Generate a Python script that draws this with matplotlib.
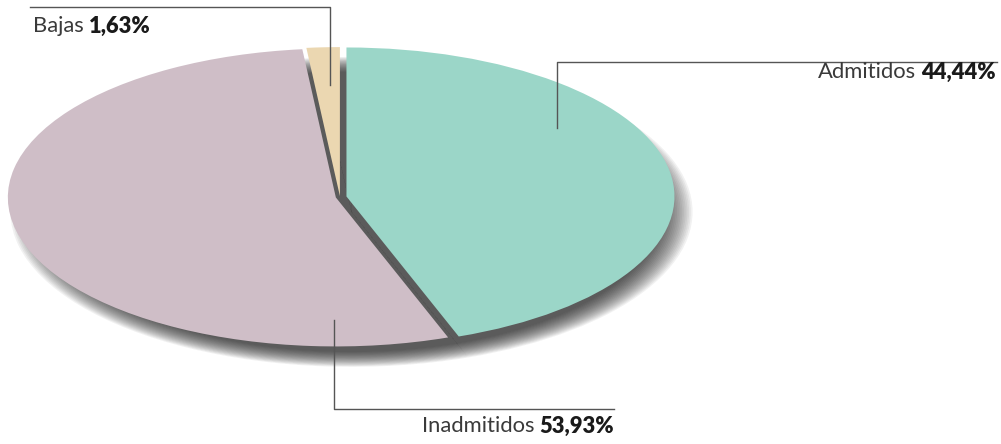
import matplotlib
matplotlib.use("Agg")
import matplotlib.pyplot as plt

W, H = 1001, 444

labels = ["Admitidos", "Inadmitidos", "Bajas"]
values = [44.44, 53.93, 1.63]
colors = ["#9bd6c8", "#cfbec7", "#ebd7b1"]
explode = [0.02, 0.013, 0.006]


def fmt_pct(v):
    return f"{v:.2f}".replace(".", ",") + "%"


def px(x, y):
    # pixel (from top-left) -> figure fraction
    return x / W, 1 - y / H


def label_pair(fig, x, y, name, value, align="left"):
    r = fig.canvas.get_renderer()
    size = 15.8
    name_kw = dict(fontsize=size, family="Lato", weight="normal", color="#3a3a3a", va="center")
    num_kw = dict(fontsize=size, family="Lato", weight="heavy", color="#1a1a1a", va="center")
    gap = 5 / W
    fx, fy = px(x, y)
    if align == "left":
        t = fig.text(fx, fy, name, ha="left", **name_kw)
        w = t.get_window_extent(r).width / W
        fig.text(fx + w + gap, fy, fmt_pct(value), ha="left", **num_kw)
    else:
        t = fig.text(fx, fy, fmt_pct(value), ha="right", **num_kw)
        w = t.get_window_extent(r).width / W
        fig.text(fx - w - gap, fy, name, ha="right", **name_kw)


def leader(fig, pts):
    xs = [px(x, y)[0] for x, y in pts]
    ys = [px(x, y)[1] for x, y in pts]
    fig.add_artist(plt.Line2D(xs, ys, color="#555555", linewidth=1.0))


fig = plt.figure(figsize=(W / 100, H / 100), dpi=100)
ax = fig.add_axes([0, 0, 1, 1])

# blurred drop shadow, stacked copies of the (unexploded) pie
n = 20
for i in range(n):
    rad = 0.99 + (i / (n - 1) - 0.5) * 0.1
    ax.pie(values, startangle=90, counterclock=False,
           radius=rad, center=(0.035, -0.1), colors=["#1e1e1e"] * 3,
           wedgeprops=dict(alpha=0.06, linewidth=0))

ax.pie(values, explode=explode, startangle=90, counterclock=False,
       colors=colors, wedgeprops=dict(linewidth=0))

# horizontal 328 px and vertical 149 px per unit radius, centre at (340, 197)
cx, cy, rx, ry = 340, 197, 328, 149
ax.set_aspect("auto")
ax.set_xlim(-cx / rx, (W - cx) / rx)
ax.set_ylim(-(H - cy) / ry, cy / ry)
ax.axis("off")

leader(fig, [(330, 85), (330, 7), (30, 7)])
leader(fig, [(557, 128), (557, 62), (997, 62)])
leader(fig, [(334, 320), (334, 409), (614, 409)])

label_pair(fig, 33, 26, labels[2], values[2], "left")
label_pair(fig, 996, 72, labels[0], values[0], "right")
label_pair(fig, 614, 426, labels[1], values[1], "right")

fig.savefig("out.png", dpi=100)
